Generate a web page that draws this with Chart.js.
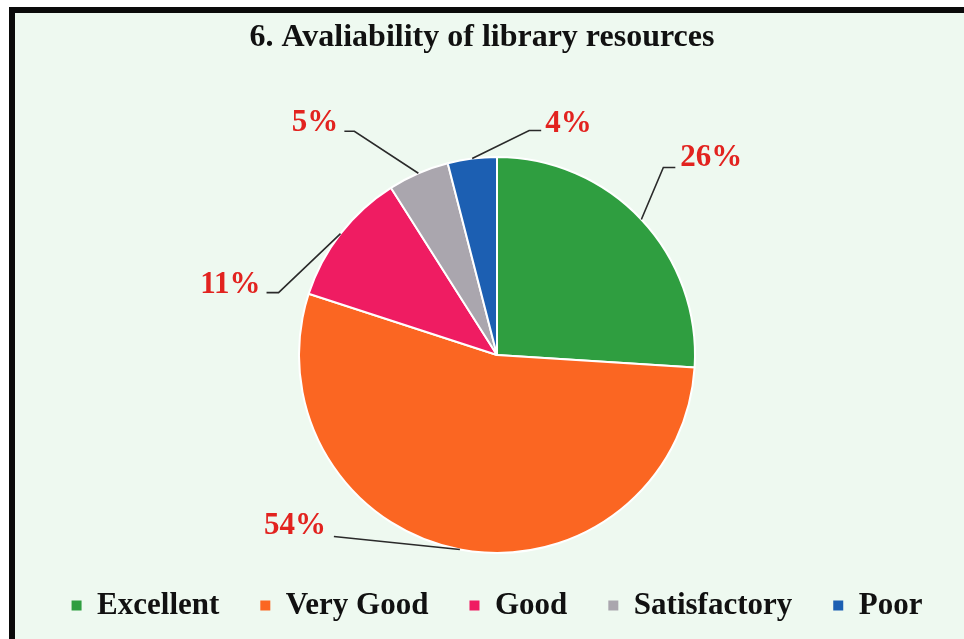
<!DOCTYPE html>
<html>
<head>
<meta charset="utf-8">
<script src="https://cdn.jsdelivr.net/npm/chart.js@4/dist/chart.umd.min.js"></script>
<style>
  html, body { margin: 0; padding: 0; background: #ffffff; overflow: hidden; width: 964px; height: 639px; }
  #frame { position: absolute; left: 9px; top: 7px; width: 980px; height: 629px;
           border-left: 6px solid #0a0a0a; border-top: 6px solid #0a0a0a; border-bottom: 1px solid #9a9a9a;
           background: #eef9f0; }
  #c { position: absolute; left: 0; top: 0; }
</style>
</head>
<body>
<div id="frame"></div>
<canvas id="c" width="964" height="639"></canvas>
<script>
const titleText = '6. Avaliability of library resources';
const categories = ['Excellent', 'Very Good', 'Good', 'Satisfactory', 'Poor'];
const percentages = [26, 54, 11, 5, 4];
const sliceColors = ['#2f9e40', '#fb6622', '#ef1c62', '#aaa6ae', '#1c5fb2'];

// Leader-line styling per slice (offsets in px from the slice's outer edge midpoint)
const leaderStyle = [
  { dx: 22,   dy: -52, tail: 12,  tdx: 5,  tdy: -9,  align: 'left'  },
  { dx: -126, dy: -13, tail: 0,   tdx: -8, tdy: -11, align: 'right' },
  { dx: -62,  dy: 59,  tail: -12, tdx: -6, tdy: -8,  align: 'right' },
  { dx: -64,  dy: -42, tail: -10, tdx: -6, tdy: -8,  align: 'right' },
  { dx: 57,   dy: -28, tail: 12,  tdx: 4,  tdy: -7,  align: 'left'  }
];

const serif = "'Liberation Serif', 'DejaVu Serif', 'Times New Roman', serif";

const leftGutter = {
  id: 'leftGutter',
  beforeInit(chart) {
    const box = {
      position: 'left', weight: 100, fullSize: false,
      options: { stack: undefined, stackWeight: 1 },
      left: 0, top: 0, right: 0, bottom: 0, width: 0, height: 0,
      isHorizontal() { return false; },
      update(maxWidth, maxHeight) { this.width = 30; this.height = maxHeight; return {}; },
      getPadding() { return { left: 0, top: 0, right: 0, bottom: 0 }; },
      draw() {}
    };
    Chart.layouts.addBox(chart, box);
  }
};

const pieLabels = {
  id: 'pieLabels',
  afterDatasetsDraw(chart) {
    const ctx = chart.ctx;
    const meta = chart.getDatasetMeta(0);
    const data = chart.data.datasets[0].data;
    ctx.save();
    meta.data.forEach((arc, i) => {
      const p = arc.getProps(['x', 'y', 'startAngle', 'endAngle', 'outerRadius'], true);
      const mid = (p.startAngle + p.endAngle) / 2;
      const ex = p.x + Math.cos(mid) * p.outerRadius;
      const ey = p.y + Math.sin(mid) * p.outerRadius;
      const s = leaderStyle[i];
      const bx = ex + s.dx, by = ey + s.dy;
      const tx = bx + s.tail;
      ctx.strokeStyle = '#2a2a2a';
      ctx.lineWidth = 1.6;
      ctx.beginPath();
      ctx.moveTo(ex, ey);
      ctx.lineTo(bx, by);
      ctx.lineTo(tx, by);
      ctx.stroke();
      ctx.fillStyle = '#e2231f';
      ctx.font = "bold 31px " + serif;
      ctx.textAlign = s.align;
      ctx.textBaseline = 'middle';
      ctx.fillText(data[i] + '%', tx + s.tdx, by + s.tdy);
    });
    ctx.restore();
  }
};

new Chart(document.getElementById('c'), {
  type: 'pie',
  data: {
    labels: categories,
    datasets: [{
      data: percentages,
      backgroundColor: sliceColors,
      borderColor: '#ffffff',
      borderWidth: 2
    }]
  },
  plugins: [leftGutter, pieLabels],
  options: {
    responsive: false,
    animation: false,
    radius: 198,
    layout: { padding: { top: 0, bottom: 8, left: 0, right: 0 } },
    plugins: {
      tooltip: { enabled: false },
      title: {
        display: true,
        text: titleText,
        color: '#111111',
        font: { family: serif, size: 32, weight: 'bold', lineHeight: 1.2 },
        padding: { top: 19, bottom: 103.6 }
      },
      legend: {
        position: 'bottom',
        fullSize: false,
        labels: {
          color: '#111111',
          font: { family: serif, size: 31, weight: 'bold' },
          boxWidth: 10,
          boxHeight: 10,
          padding: 41,
          generateLabels(chart) {
            const items = Chart.overrides.pie.plugins.legend.labels.generateLabels(chart);
            return items.map(it => Object.assign(it, { lineWidth: 0, strokeStyle: 'rgba(0,0,0,0)' }));
          }
        }
      }
    }
  }
});
</script>
</body>
</html>
